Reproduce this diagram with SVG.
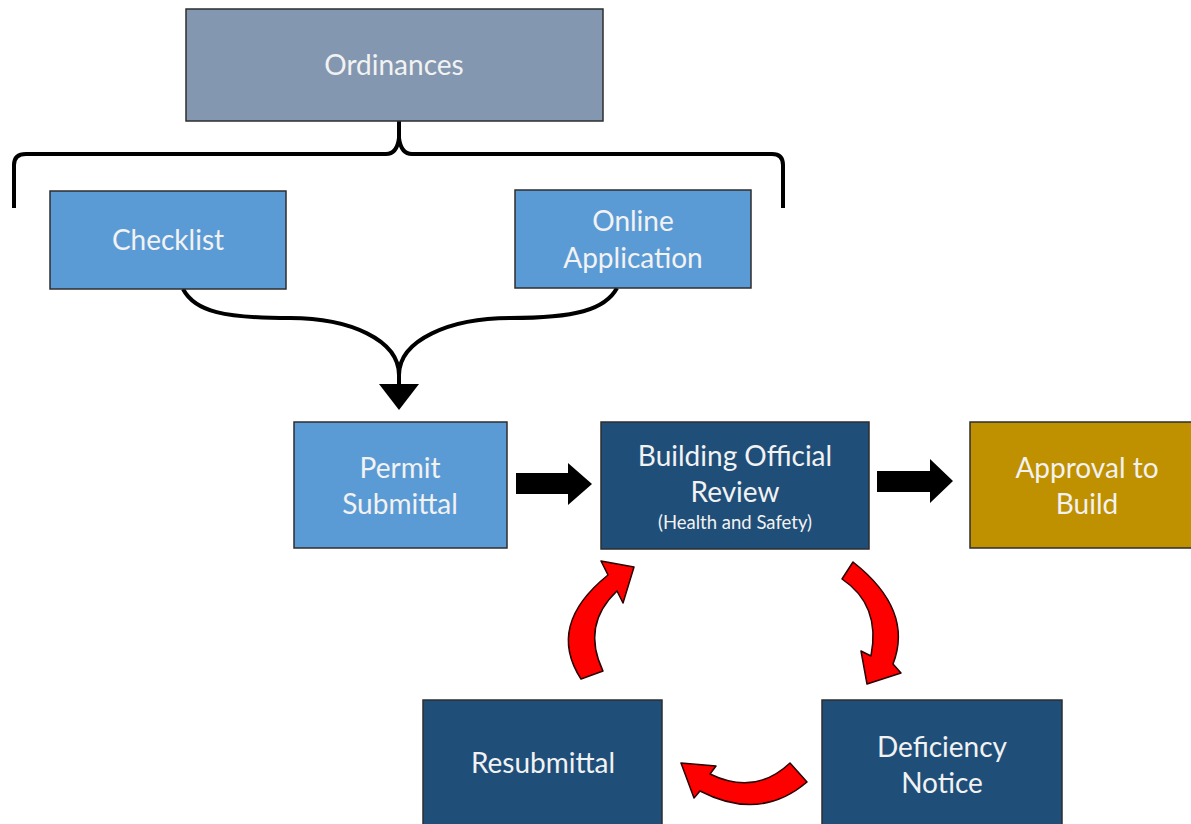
<svg xmlns="http://www.w3.org/2000/svg" width="1191" height="824" viewBox="0 0 1191 824">
<style>
.box{stroke:#2e2e2e;stroke-width:1.5}
.t{font-family:Lato,"Open Sans","Liberation Sans",sans-serif;font-size:28px;fill:#f2f2f2;text-anchor:middle}
.s{font-size:18.5px}
.line{fill:none;stroke:#000;stroke-width:4}
.red{fill:#ff0000;stroke:#2a0000;stroke-width:1.5;stroke-linejoin:round}
</style>
<rect width="1191" height="824" fill="#fff"/>
<g id="connectors">
<path class="line" d="M 14,208 L 14,165 Q 14,154 26,154 L 386,154 Q 397,154 399,138 L 399,121 M 399,138 Q 401,154 412,154 L 772,154 Q 783,154 783,165 L 783,208"/>
<path class="line" d="M 183,289 C 195,312 225,318 290,318 C 350,318 399,340 399,375 L 399,390"/>
<path class="line" d="M 617,288 C 605,310 575,318 510,318 C 450,318 399,340 399,375"/>
<polygon points="379,384 419,384 399,410" fill="#000"/>
<polygon points="516,473 568,473 568,463 592,484 568,505 568,494 516,494" fill="#000"/>
<polygon points="877,471 930,471 930,459 953,481 930,503 930,492 877,492" fill="#000"/>
<path class="red" d="M 581,679 Q 546,625 608,575 L 601,561 L 634,567 L 623,603 L 617,591 Q 581,625 603,671 Z"/>
<path class="red" d="M 853,562 Q 914,610 893,664 L 901,673 L 867,684 L 861,651 L 871,656 Q 881,605 842,579 Z"/>
<path class="red" d="M 807,782 Q 760,822 700,791 L 694,798 L 681,763 L 716,766 L 710,774 Q 755,796 790,763 Z"/>
</g>
<g id="ordinances">
<rect class="box" x="186" y="9" width="417" height="112" fill="#8497b0"/>
<text class="t" x="394" y="75">Ordinances</text>
</g>
<g id="checklist">
<rect class="box" x="50" y="191" width="236" height="98" fill="#5b9bd5"/>
<text class="t" x="168" y="250">Checklist</text>
</g>
<g id="online-application">
<rect class="box" x="515" y="190" width="236" height="98" fill="#5b9bd5"/>
<text class="t" x="633" y="231">Online</text>
<text class="t" x="633" y="268">Application</text>
</g>
<g id="permit-submittal">
<rect class="box" x="294" y="422" width="213" height="126" fill="#5b9bd5"/>
<text class="t" x="400" y="478">Permit</text>
<text class="t" x="400" y="514">Submittal</text>
</g>
<g id="building-official-review">
<rect class="box" x="601" y="422" width="268" height="127" fill="#1f4e79"/>
<text class="t" x="735" y="466">Building Official</text>
<text class="t" x="735" y="502">Review</text>
<text class="t s" x="735" y="529">(Health and Safety)</text>
</g>
<g id="approval-to-build">
<rect class="box" x="970" y="422" width="222" height="126" fill="#bf9000"/>
<text class="t" x="1087" y="478">Approval to</text>
<text class="t" x="1087" y="514">Build</text>
</g>
<g id="resubmittal">
<rect class="box" x="423" y="700" width="239" height="130" fill="#1f4e79"/>
<text class="t" x="543" y="773">Resubmittal</text>
</g>
<g id="deficiency-notice">
<rect class="box" x="822" y="700" width="240" height="130" fill="#1f4e79"/>
<text class="t" x="942" y="757">Deficiency</text>
<text class="t" x="942" y="793">Notice</text>
</g>
</svg>
